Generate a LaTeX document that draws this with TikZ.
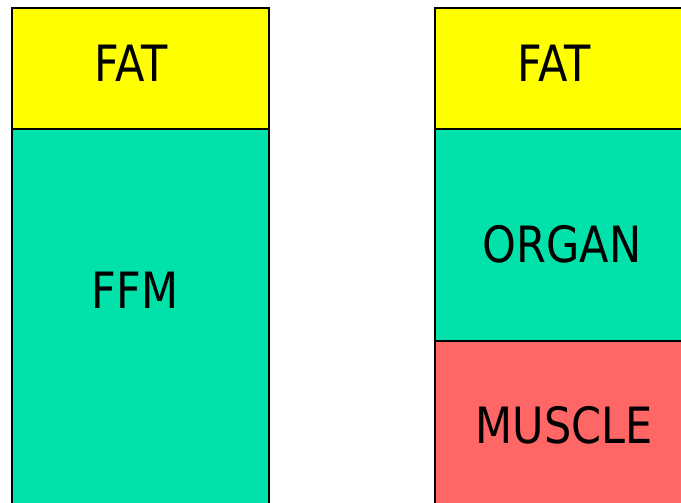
\documentclass[tikz,border=0pt]{standalone}
\usepackage{fontspec}
\setmainfont{DejaVu Sans}[FakeStretch=0.86]
\definecolor{fatc}{HTML}{FFFF00}
\definecolor{ffmc}{HTML}{00E2AA}
\definecolor{musc}{HTML}{FF6666}
\begin{document}
\begin{tikzpicture}[x=1pt,y=-1pt,
  seg/.style={draw=black,line width=2pt},
  lbl/.style={font=\fontsize{50}{56}\selectfont,inner sep=0pt,anchor=center}]
\useasboundingbox (0,0) rectangle (681,503);
\clip (0,0) rectangle (681,503);
% left column
\path[seg,fill=ffmc] (12,129) rectangle (269,520);
\path[seg,fill=fatc] (12,8) rectangle (269,129);
% right column
\path[seg,fill=musc] (435,341) rectangle (700,520);
\path[seg,fill=ffmc] (435,129) rectangle (700,341);
\path[seg,fill=fatc] (435,8) rectangle (700,129);
\node[lbl] (fat1) at (131,63) {FAT};
\node[lbl] (ffm) at (135,290) {FFM};
\node[lbl] (fat2) at (554,63) {FAT};
\node[lbl] (organ) at (562,244) {ORGAN};
\node[lbl] (muscle) at (564,425) {MUSCLE};
\end{tikzpicture}
\end{document}
